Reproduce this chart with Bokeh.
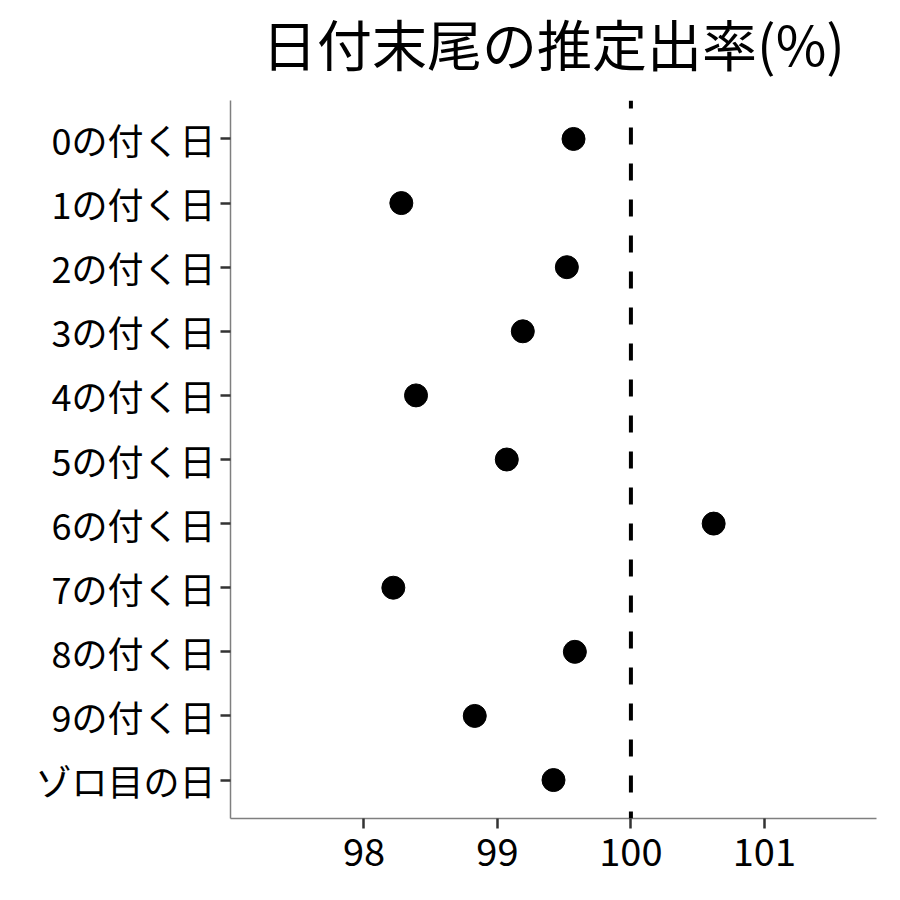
from bokeh.plotting import figure
from bokeh.models import FactorRange, Range1d, Span, FixedTicker, ColumnDataSource
from bokeh.embed import file_html
from bokeh.resources import INLINE

# ---- data ----
categories = ["0の付く日", "1の付く日", "2の付く日", "3の付く日", "4の付く日",
              "5の付く日", "6の付く日", "7の付く日", "8の付く日", "9の付く日",
              "ゾロ目の日"]
rates = [99.57, 98.28, 99.52, 99.19, 98.39, 99.07, 100.62, 98.22, 99.58, 98.83, 99.42]
x_ticks = [98, 99, 100, 101]
reference_rate = 100
title_text = "日付末尾の推定出率(%)"
x_lo, x_hi = 97.0, 101.84

FONT = "Noto Sans CJK JP"

source = ColumnDataSource(data=dict(cat=categories, rate=rates))

y_range = FactorRange(factors=list(reversed(categories)),
                      range_padding=0.2 / len(categories),
                      range_padding_units="percent")

p = figure(width=884, height=904, output_backend="svg", toolbar_location=None,
           y_range=y_range, x_range=Range1d(x_lo, x_hi),
           min_border_left=230, min_border_right=8,
           min_border_top=20, min_border_bottom=66)
# the title's font box is tall; shift the whole figure up a little so the frame sits where it should
p.styles = {"margin-top": "-20px"}

p.title.text = title_text
p.title.align = "center"
p.title.text_font = FONT
p.title.text_font_size = "55px"
p.title.text_font_style = "normal"
p.title.text_color = "black"
p.title.standoff = 38

p.add_layout(Span(location=reference_rate, dimension="height", line_color="black",
                  line_width=4, line_dash="17 19", line_dash_offset=9))

p.scatter(x="rate", y="cat", source=source, size=23, color="black")

p.xgrid.visible = False
p.ygrid.visible = False
p.outline_line_color = None
p.background_fill_color = "white"
p.border_fill_color = "white"

p.xaxis.ticker = FixedTicker(ticks=x_ticks)

for ax in (p.xaxis[0], p.yaxis[0]):
    ax.axis_line_color = "#7f7f7f"
    ax.axis_line_width = 1.5
    ax.major_tick_line_color = "#333333"
    ax.major_tick_line_width = 2.5
    ax.major_tick_out = 10
    ax.major_tick_in = 0
    ax.minor_tick_line_color = None
    ax.major_label_text_font = FONT
    ax.major_label_text_color = "black"

p.xaxis[0].major_label_text_font_size = "38px"
p.yaxis[0].major_label_text_font_size = "36px"
p.yaxis[0].major_label_standoff = 5
p.xaxis[0].major_label_standoff = 9

open("out.html", "w").write(file_html(p, INLINE))
